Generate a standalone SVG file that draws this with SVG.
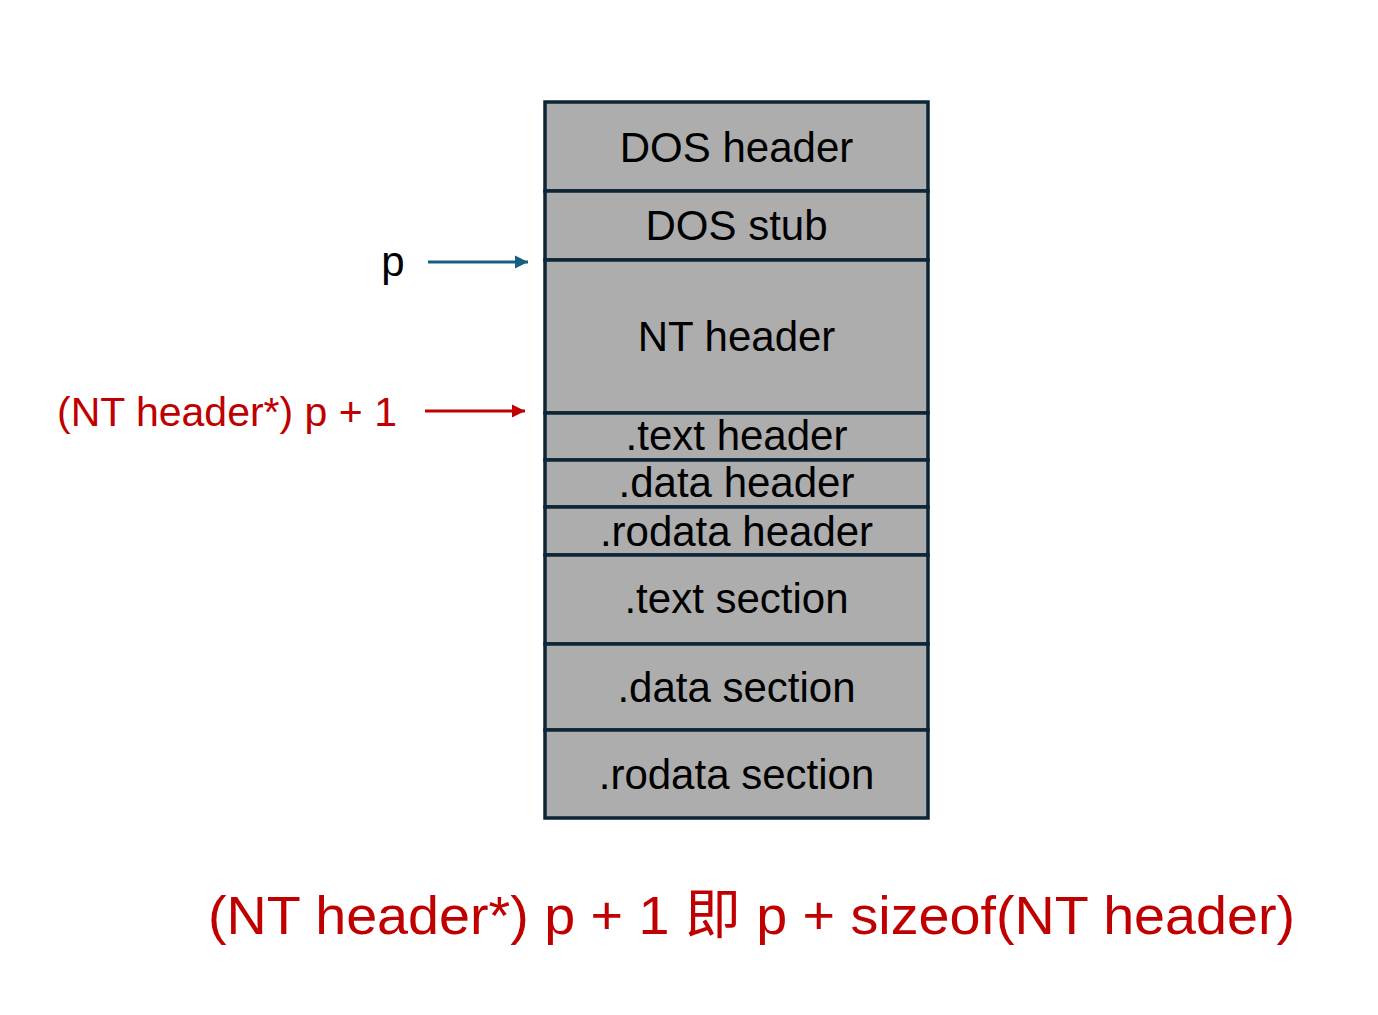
<svg xmlns="http://www.w3.org/2000/svg" width="1378" height="1015" viewBox="0 0 1378 1015">
<style>
.cell{fill:#adadad;stroke:#0c2537;stroke-width:3.5}
.lbl{font-family:"Liberation Sans",Arial,sans-serif;font-size:42px;fill:#000;text-anchor:middle}
.red{font-family:"Liberation Sans",Arial,"Noto Sans CJK TC",sans-serif;fill:#c00000}
</style>
<defs>
<marker id="ab" viewBox="0 0 10 10" refX="10" refY="5" markerWidth="4.5" markerHeight="4.5" orient="auto" markerUnits="strokeWidth"><path d="M0,0 L10,5 L0,10 z" fill="#156082"/></marker>
<marker id="ar" viewBox="0 0 10 10" refX="10" refY="5" markerWidth="4.5" markerHeight="4.5" orient="auto" markerUnits="strokeWidth"><path d="M0,0 L10,5 L0,10 z" fill="#c00000"/></marker>
</defs>
<rect width="1378" height="1015" fill="#fff"/>
<g id="dos-header"><rect class="cell" x="545" y="102" width="383" height="89"/><text class="lbl" x="736.5" y="162">DOS header</text></g>
<g id="dos-stub"><rect class="cell" x="545" y="191" width="383" height="69"/><text class="lbl" x="736.5" y="240">DOS stub</text></g>
<g id="nt-header"><rect class="cell" x="545" y="260" width="383" height="153"/><text class="lbl" x="736.5" y="351">NT header</text></g>
<g id="text-header"><rect class="cell" x="545" y="413" width="383" height="47"/><text class="lbl" x="736.5" y="450">.text header</text></g>
<g id="data-header"><rect class="cell" x="545" y="460" width="383" height="47"/><text class="lbl" x="736.5" y="497">.data header</text></g>
<g id="rodata-header"><rect class="cell" x="545" y="507" width="383" height="48"/><text class="lbl" x="736.5" y="546">.rodata header</text></g>
<g id="text-section"><rect class="cell" x="545" y="555" width="383" height="89"/><text class="lbl" x="736.5" y="613">.text section</text></g>
<g id="data-section"><rect class="cell" x="545" y="644" width="383" height="86"/><text class="lbl" x="736.5" y="702">.data section</text></g>
<g id="rodata-section"><rect class="cell" x="545" y="730" width="383" height="88"/><text class="lbl" x="736.5" y="789">.rodata section</text></g>
<g id="p-label"><text x="393" y="276" class="lbl">p</text></g>
<g id="nt-plus-label"><text x="57" y="426" class="red" font-size="41">(NT header*) p + 1</text></g>
<g id="connectors">
<line x1="428" y1="262" x2="528" y2="262" stroke="#156082" stroke-width="3" marker-end="url(#ab)"/>
<line x1="425" y1="411" x2="525" y2="411" stroke="#c00000" stroke-width="3" marker-end="url(#ar)"/>
</g>
<g id="caption"><text x="208" y="934" class="red" font-size="54" textLength="1087" lengthAdjust="spacingAndGlyphs">(NT header*) p + 1 即 p + sizeof(NT header)</text></g>
</svg>
